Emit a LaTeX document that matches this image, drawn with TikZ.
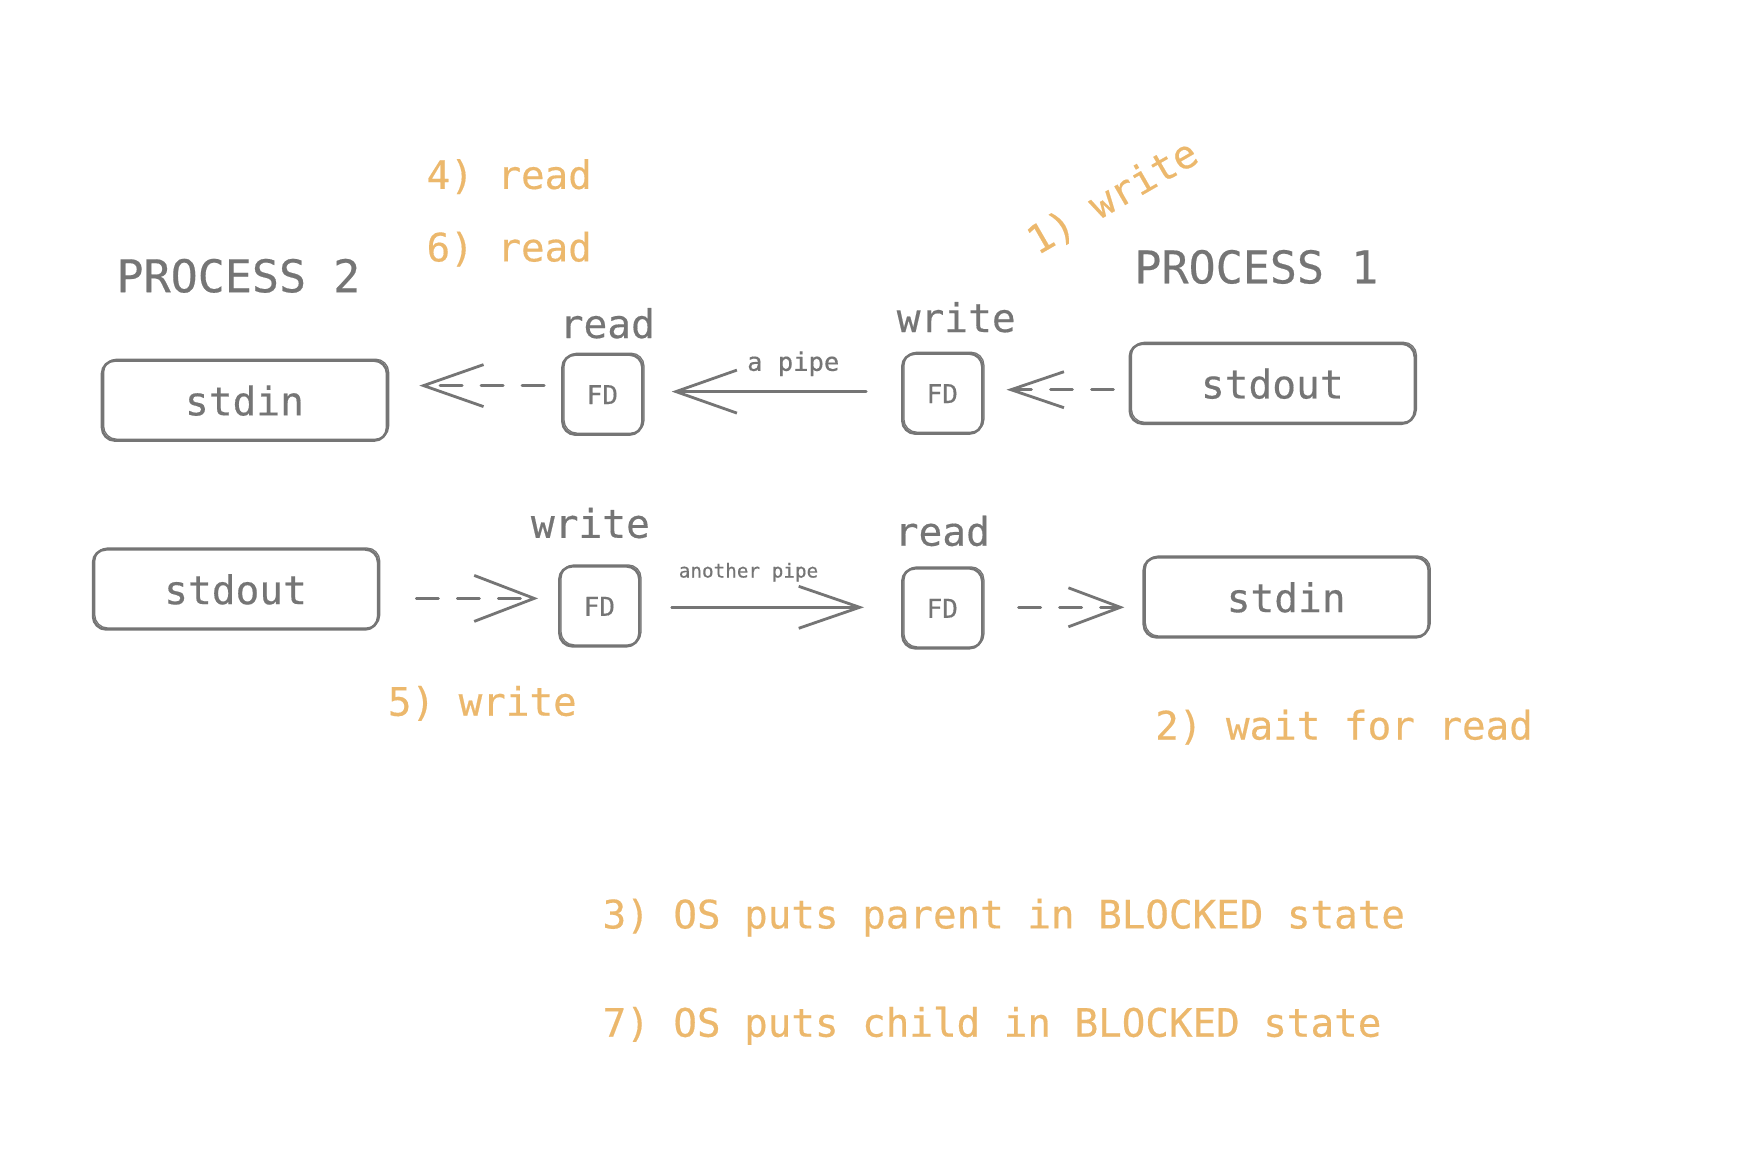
\documentclass[tikz,border=0pt]{standalone}
\usepackage{fontspec}
\setmonofont{DejaVu Sans Mono}
\newfontfamily\sketchfont{DejaVu Sans Mono}[FakeBold=0.4]
\usetikzlibrary{arrows.meta}
\definecolor{inkgray}{HTML}{757575}
\definecolor{inkorange}{HTML}{ECB86C}
\tikzset{
  sketchbox/.style={draw=inkgray, line width=2.6pt, rounded corners=13pt,
    inner sep=0pt, text=inkgray, font=\sketchfont\fontsize{39.5}{48}\selectfont,
    preaction={draw=inkgray, line width=1.3pt, rounded corners=13pt,
      transform canvas={shift={(1.6pt,1.4pt)}}}},
  wide/.style={sketchbox, minimum width=285pt, minimum height=80pt},
  fdbox/.style={sketchbox, minimum width=80pt, minimum height=80pt,
    font=\sketchfont\fontsize{26}{30}\selectfont},
  graylabel/.style={text=inkgray, font=\sketchfont\fontsize{39.5}{48}\selectfont, anchor=base, inner sep=0pt},
  proclabel/.style={text=inkgray, font=\sketchfont\fontsize{45}{54}\selectfont, anchor=base west, inner sep=0pt},
  steplabel/.style={text=inkorange, font=\sketchfont\fontsize{39.2}{48}\selectfont, anchor=base west, inner sep=0pt},
  pipelabel/.style={text=inkgray, anchor=base, inner sep=0pt},
  conn/.style={draw=inkgray, line width=2.8pt, line cap=round},
  dashconn/.style={conn, dash pattern=on 22pt off 19pt},
}
\begin{document}
\begin{tikzpicture}[x=1pt,y=-1pt]
\useasboundingbox (0,0) rectangle (1740,1152);
\fill[white] (0,0) rectangle (1740,1152);

% top row
\node[wide] (stdinTL) at (244.5,400.6) {stdin};
\node[fdbox] (fdTL) at (602.4,394.6) {FD};
\node[fdbox] (fdTR) at (942.3,393.6) {FD};
\node[wide] (stdoutTR) at (1272.3,383.7) {stdout};

% bottom row
\node[wide] (stdoutBL) at (235.6,589.4) {stdout};
\node[fdbox] (fdBL) at (599.4,606.3) {FD};
\node[fdbox] (fdBR) at (942.3,608.3) {FD};
\node[wide] (stdinBR) at (1286.2,597.4) {stdin};

% labels
\node[proclabel] (p2) at (116.3,292.2) {PROCESS 2};
\node[proclabel] (p1) at (1134.2,283.3) {PROCESS 1};
\node[graylabel] (rdT) at (607.3,338) {read};
\node[graylabel] (wrT) at (956.2,332) {write};
\node[graylabel] (wrB) at (590.4,537.8) {write};
\node[graylabel] (rdB) at (942.3,545.7) {read};
\node[pipelabel, font=\sketchfont\fontsize{25.5}{30}\selectfont] (ap) at (793.2,370.8) {a pipe};
\node[pipelabel, font=\sketchfont\fontsize{19.3}{24}\selectfont] (anp) at (748.5,577.5) {another pipe};

% orange steps
\node[steplabel] (s4) at (426.4,188.9) {4) read};
\node[steplabel] (s6) at (426.4,261.4) {6) read};
\node[steplabel, rotate=30, anchor=center] (s1) at (1113,197.8) {1) write};
\node[steplabel] (s5) at (387.7,715.7) {5) write};
\node[steplabel] (s2) at (1155,739.5) {2) wait for read};
\node[steplabel] (s3) at (602.4,928.4) {3) OS puts parent in BLOCKED state};
\node[steplabel] (s7) at (602.4,1036.7) {7) OS puts child in BLOCKED state};

% connectors top
\draw[dashconn, -{Straight Barb[length=60pt,width=42pt,line width=2.8pt]},
  shorten <=17pt, shorten >=31pt]
  ([yshift=9pt]fdTL.west) -- ([yshift=9pt]fdTL.west -| stdinTL.east);
\draw[conn, line width=3.4pt, -{Straight Barb[length=61pt,width=43pt,line width=2.8pt]},
  shorten <=35pt, shorten >=28pt]
  ([yshift=2pt]fdTR.west) -- ([yshift=2pt]fdTR.west -| fdTL.east);
\draw[dashconn, -{Straight Barb[length=53pt,width=36pt,line width=2.8pt]},
  shorten <=15pt, shorten >=23pt]
  ([yshift=-6pt]stdoutTR.west) -- ([yshift=-6pt]stdoutTR.west -| fdTR.east);

% connectors bottom
\draw[dashconn, -{Straight Barb[length=60pt,width=46pt,line width=2.8pt]},
  shorten <=37pt, shorten >=20pt]
  ([yshift=-9pt]stdoutBL.east) -- ([yshift=-9pt]stdoutBL.east -| fdBL.west);
\draw[conn, -{Straight Barb[length=61pt,width=42pt,line width=2.8pt]},
  shorten <=31pt, shorten >=37pt]
  ([yshift=-1pt]fdBL.east) -- ([yshift=-1pt]fdBL.east -| fdBR.west);
\draw[dashconn, -{Straight Barb[length=52pt,width=39pt,line width=2.8pt]},
  shorten <=35pt, shorten >=18pt]
  ([yshift=1pt]fdBR.east) -- ([yshift=1pt]fdBR.east -| stdinBR.west);
\end{tikzpicture}
\end{document}
